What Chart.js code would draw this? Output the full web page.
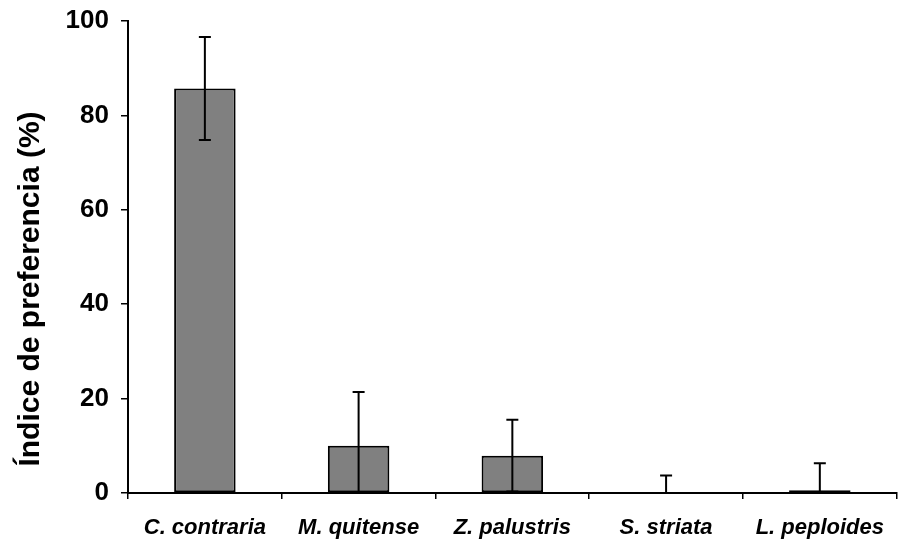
<!DOCTYPE html>
<html>
<head>
<meta charset="utf-8">
<script src="https://cdn.jsdelivr.net/npm/chart.js@4.4.1/dist/chart.umd.min.js"></script>
<style>
  html, body { margin: 0; padding: 0; background: #fff; }
  #wrap { width: 900px; height: 549px; }
</style>
</head>
<body>
<div id="wrap"><canvas id="chart"></canvas></div>
<script>
// Índice de preferencia por especie (media ± error)
const species = ['C. contraria', 'M. quitense', 'Z. palustris', 'S. striata', 'L. peploides'];
const preference = [85.7, 10.0, 7.9, 0.1, 0.6];
const errors = [10.9, 11.4, 7.6, 3.6, 5.7];
const yTicks = [0, 20, 40, 60, 80, 100];
const yTitle = 'Índice de preferencia (%)';

const FONT = '"Liberation Sans", Arial, sans-serif';

// whiskers drawn on top of each bar, clipped at the axis minimum
const errorBars = {
  id: 'errorBars',
  afterDatasetsDraw(chart) {
    const { ctx, scales: { y } } = chart;
    const meta = chart.getDatasetMeta(0);
    ctx.save();
    ctx.strokeStyle = '#000';
    ctx.lineWidth = 2;
    meta.data.forEach((bar, i) => {
      const v = preference[i], e = errors[i];
      const lo = v - e;
      const yTop = y.getPixelForValue(v + e);
      const yBot = y.getPixelForValue(Math.max(lo, y.min));
      const x = bar.x;
      ctx.beginPath();
      ctx.moveTo(x, yBot);
      ctx.lineTo(x, yTop);
      ctx.moveTo(x - 6, yTop);
      ctx.lineTo(x + 6, yTop);
      if (lo > y.min) {
        ctx.moveTo(x - 6, yBot);
        ctx.lineTo(x + 6, yBot);
      }
      ctx.stroke();
    });
    ctx.restore();
  }
};

// y title sits a bit below the axis centre, so it is drawn by hand
const sideTitle = {
  id: 'sideTitle',
  afterDraw(chart) {
    const { ctx, chartArea } = chart;
    const cy = (chartArea.top + chartArea.bottom) / 2 + 32;
    ctx.save();
    ctx.translate(31, cy);
    ctx.rotate(-Math.PI / 2);
    ctx.fillStyle = '#000';
    ctx.font = 'bold 30px ' + FONT;
    ctx.textAlign = 'center';
    ctx.textBaseline = 'middle';
    ctx.fillText(yTitle, 0, 0);
    ctx.restore();
  }
};

new Chart(document.getElementById('chart'), {
  type: 'bar',
  data: {
    labels: species,
    datasets: [{
      data: preference,
      backgroundColor: '#808080',
      borderColor: '#000',
      borderWidth: 2,
      borderSkipped: false,
      categoryPercentage: 1,
      barPercentage: 0.4
    }]
  },
  plugins: [errorBars, sideTitle],
  options: {
    responsive: true,
    maintainAspectRatio: false,
    animation: false,
    layout: { padding: { top: 21, right: 0, left: 0, bottom: 0 } },
    plugins: { legend: { display: false }, tooltip: { enabled: false } },
    scales: {
      x: {
        grid: { drawOnChartArea: false, drawTicks: true, tickLength: 6, color: '#000', lineWidth: 1.5, offset: true },
        border: { color: '#000', width: 2 },
        ticks: {
          color: '#000', padding: 16,
          font: { family: FONT, size: 22, weight: 'bold', style: 'italic' }
        },
        afterFit(scale) { scale.height = 56; }
      },
      y: {
        min: 0, max: 100,
        afterBuildTicks(scale) { scale.ticks = yTicks.map(v => ({ value: v })); },
        grid: { drawOnChartArea: false, drawTicks: true, tickLength: 7, color: '#000', lineWidth: 1.5 },
        border: { color: '#000', width: 2 },
        ticks: {
          color: '#000', padding: 12,
          font: { family: FONT, size: 26, weight: 'bold' }
        },
        afterFit(scale) {
          scale.width = 128;
          scale.paddingTop = 0;
          scale.paddingBottom = 0;
        }
      }
    }
  }
});
</script>
</body>
</html>
